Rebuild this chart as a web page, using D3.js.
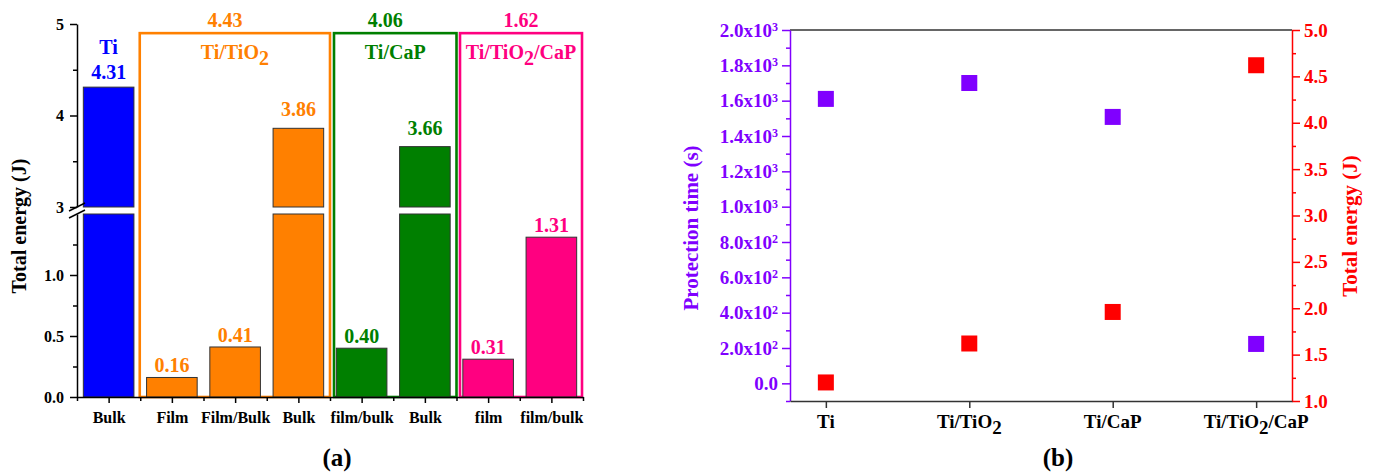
<!DOCTYPE html>
<html><head><meta charset="utf-8">
<script src="https://cdn.jsdelivr.net/npm/d3@7"></script>
<style>
body{margin:0;background:#fff}
text{font-family:"Liberation Serif","Times New Roman",serif;font-weight:bold}
</style>
</head><body>
<svg id="c" width="1373" height="472"></svg>
<script>
// ---------- DATA (a) ----------
const barLabels = ["Bulk","Film","Film/Bulk","Bulk","film/bulk","Bulk","film","film/bulk"];
const barValues = [4.31,0.16,0.41,3.86,0.40,3.66,0.31,1.31];
const barGroup  = [0,1,1,1,2,2,3,3];
const groupNames  = ["Ti","Ti/TiO2","Ti/CaP","Ti/TiO2/CaP"];
const groupTotals = [4.31,4.43,4.06,1.62];
const lowTicks  = [0.0,0.5,1.0];
const highTicks = [3,4,5];
// ---------- DATA (b) ----------
const samples = ["Ti","Ti/TiO2","Ti/CaP","Ti/TiO2/CaP"];
const protectionTime = [1610,1700,1508,223];
const totalEnergy    = [1.20,1.62,1.96,4.62];
const timeTicks   = [0,200,400,600,800,1000,1200,1400,1600,1800,2000];
const energyTicks = [1.0,1.5,2.0,2.5,3.0,3.5,4.0,4.5,5.0];

// ---------- STYLE ----------
const groupColors = ["#0000ff","#ff8000","#007f00","#ff0080"];
const purple = "#8000ff", red = "#ff0000", dark = "#333";

const svg = d3.select("#c");

function subText(sel, str){
  const parts = str.split("O2");
  parts.forEach((p,i)=>{
    const last = i===parts.length-1;
    if(i===0){
      sel.append("tspan").text(last ? p : p+"O");
    } else {
      sel.append("tspan").attr("dy","0.3em").text("2");
      sel.append("tspan").attr("dy","-0.3em").text(last ? p : p+"O");
    }
  });
}

// =============== CHART (a) ===============
const ga = svg.append("g");
const x = d3.scaleLinear().domain([0.5,8.5]).range([77,583]);
const yLow = d3.scaleLinear().domain([0,1.5]).range([397,214]);
const yHigh = d3.scaleLinear().domain([3,5]).range([207,24]);
const bw = (x(1)-x(0.5))*2*0.8;
const breakLow = 1.5, breakHigh = 3;

// group boxes
const boxes = [null,[x(1.5)-0.5,x(4.5)],[x(4.5)+4,x(6.5)],[x(6.5)+3.5,x(8.5)-1]];
const totalDx = [0,-10,-10,0];
boxes.forEach((b,g)=>{
  if(!b) return;
  ga.append("rect").attr("x",b[0]).attr("y",yHigh(4.9))
    .attr("width",b[1]-b[0]).attr("height",yLow(0)-yHigh(4.9))
    .attr("fill","none").attr("stroke",groupColors[g]).attr("stroke-width",2.6);
  const cx = (b[0]+b[1])/2;
  ga.append("text").attr("x",cx+totalDx[g]).attr("y",yHigh(4.9)-6)
    .attr("text-anchor","middle").attr("font-size",20).attr("fill",groupColors[g])
    .text(groupTotals[g].toFixed(2));
  const t = ga.append("text").attr("x",cx).attr("y",yHigh(4.9)+26)
    .attr("text-anchor","middle").attr("font-size",20).attr("fill",groupColors[g]);
  subText(t, groupNames[g]);
});
// Ti group label (no box)
ga.append("text").attr("x",x(1)).attr("y",yHigh(4.67)).attr("text-anchor","middle")
  .attr("font-size",20).attr("fill",groupColors[0]).text(groupNames[0]);
ga.append("text").attr("x",x(1)).attr("y",yHigh(4.4)).attr("text-anchor","middle")
  .attr("font-size",20).attr("fill",groupColors[0]).text(groupTotals[0].toFixed(2));

// bars
barValues.forEach((v,i)=>{
  const cx = x(i+1), col = groupColors[barGroup[i]];
  let topY;
  if(v<=breakLow){
    topY = yLow(v);
    ga.append("rect").attr("x",cx-bw/2).attr("y",topY).attr("width",bw)
      .attr("height",yLow(0)-topY).attr("fill",col).attr("stroke",dark).attr("stroke-width",1);
  } else {
    ga.append("rect").attr("x",cx-bw/2).attr("y",yLow(breakLow)).attr("width",bw)
      .attr("height",yLow(0)-yLow(breakLow)).attr("fill",col).attr("stroke",dark).attr("stroke-width",1);
    topY = yHigh(v);
    ga.append("rect").attr("x",cx-bw/2).attr("y",topY).attr("width",bw)
      .attr("height",yHigh(breakHigh)-topY).attr("fill",col).attr("stroke",dark).attr("stroke-width",1);
  }
  if(i>0){
    ga.append("text").attr("x",cx).attr("y",topY-(v>breakLow?12:5))
      .attr("text-anchor","middle").attr("font-size",20).attr("fill",col).text(v.toFixed(2));
  }
});

// y axes (split)
function styleAxis(g,color,fs){
  g.selectAll("path,line").attr("stroke",color).attr("stroke-width",1.5);
  g.selectAll("text").attr("fill",color).attr("font-size",fs||16)
    .attr("font-family","'Liberation Serif',serif").attr("font-weight","bold");
}
const axLow = ga.append("g").attr("transform","translate(77,0)")
  .call(d3.axisLeft(yLow).tickValues(lowTicks).tickSize(7).tickSizeOuter(0).tickPadding(6).tickFormat(d3.format(".1f")));
styleAxis(axLow,"#000",16);
ga.append("g").attr("transform","translate(77,0)")
  .call(d3.axisLeft(yLow).tickValues([0.25,0.75,1.25]).tickSize(4).tickSizeOuter(0).tickFormat(""))
  .call(g=>{g.select(".domain").remove(); styleAxis(g,"#000");});
const axHigh = ga.append("g").attr("transform","translate(77,0)")
  .call(d3.axisLeft(yHigh).tickValues(highTicks).tickSize(7).tickSizeOuter(0).tickPadding(6).tickFormat(d3.format("d")));
styleAxis(axHigh,"#000",16);
ga.append("g").attr("transform","translate(77,0)")
  .call(d3.axisLeft(yHigh).tickValues([3.5,4.5]).tickSize(4).tickSizeOuter(0).tickFormat(""))
  .call(g=>{g.select(".domain").remove(); styleAxis(g,"#000");});
// break marks
[yHigh(3)+3, yLow(1.5)+3].forEach(yy=>{
  ga.append("line").attr("x1",69).attr("y1",yy+1).attr("x2",85).attr("y2",yy-7)
    .attr("stroke","#000").attr("stroke-width",1.5);
});

// x axis
const axX = ga.append("g").attr("transform","translate(0,397)")
  .call(d3.axisBottom(x).tickValues(d3.range(1,9)).tickSize(6).tickSizeOuter(0).tickPadding(9)
    .tickFormat((d)=>barLabels[d-1]));
styleAxis(axX,"#000",16);
ga.append("g").attr("transform","translate(0,397)")
  .call(d3.axisBottom(x).tickValues(d3.range(0.5,9,1)).tickSize(4).tickSizeOuter(0).tickFormat(""))
  .call(g=>{g.select(".domain").remove(); styleAxis(g,"#000");});

ga.append("text").attr("transform","translate(26,226) rotate(-90)").attr("text-anchor","middle")
  .attr("font-size",20).attr("fill","#000").text("Total energy (J)");
ga.append("text").attr("x",337).attr("y",466).attr("text-anchor","middle")
  .attr("font-size",25).attr("fill","#000").text("(a)");

// =============== CHART (b) ===============
const gb = svg.append("g");
const xb = d3.scaleLinear().domain([0.75,4.25]).range([790,1292]);
const yT = d3.scaleLinear().domain([-100,2000]).range([401,30]);
const yE = d3.scaleLinear().domain([1,5]).range([401,30]);

// frame top
gb.append("line").attr("x1",790).attr("x2",1292).attr("y1",30).attr("y2",30)
  .attr("stroke",dark).attr("stroke-width",1.5);

// left axis (purple)
const axT = gb.append("g").attr("transform","translate(790,0)")
  .call(d3.axisLeft(yT).tickValues(timeTicks).tickSize(8).tickSizeOuter(0).tickFormat(""));
styleAxis(axT,purple);
gb.append("g").attr("transform","translate(790,0)")
  .call(d3.axisLeft(yT).tickValues(d3.range(-100,2000,200)).tickSize(4).tickSizeOuter(0).tickFormat(""))
  .call(g=>{g.select(".domain").remove(); styleAxis(g,purple);});
timeTicks.forEach(v=>{
  const t = gb.append("text").attr("x",778).attr("y",yT(v)+6.5).attr("text-anchor","end")
    .attr("font-size",19).attr("fill",purple);
  if(v===0){ t.text("0.0"); return; }
  const e = Math.floor(Math.log10(v)), m = v/Math.pow(10,e);
  t.append("tspan").text(m.toFixed(1)+"x10");
  t.append("tspan").attr("dy","-0.45em").attr("font-size",12).text(e);
});

// right axis (red)
const axE = gb.append("g").attr("transform","translate(1292,0)")
  .call(d3.axisRight(yE).tickValues(energyTicks).tickSize(8).tickSizeOuter(0).tickPadding(4).tickFormat(d3.format(".1f")));
styleAxis(axE,red,19);
gb.append("g").attr("transform","translate(1292,0)")
  .call(d3.axisRight(yE).tickValues(d3.range(1.25,5,0.5)).tickSize(4).tickSizeOuter(0).tickFormat(""))
  .call(g=>{g.select(".domain").remove(); styleAxis(g,red);});

// bottom axis
const axB = gb.append("g").attr("transform","translate(0,401)")
  .call(d3.axisBottom(xb).tickValues([1,2,3,4]).tickSize(7).tickSizeOuter(0).tickFormat(""));
styleAxis(axB,dark);
samples.forEach((s,i)=>{
  const t = gb.append("text").attr("x",xb(i+1)).attr("y",428).attr("text-anchor","middle")
    .attr("font-size",19).attr("fill","#000");
  subText(t,s);
});

// points
const sz = 16;
gb.selectAll("rect.pt").data(protectionTime).join("rect").attr("class","pt")
  .attr("x",(d,i)=>xb(i+1)-sz/2).attr("y",d=>yT(d)-sz/2).attr("width",sz).attr("height",sz)
  .attr("fill",purple);
gb.selectAll("rect.en").data(totalEnergy).join("rect").attr("class","en")
  .attr("x",(d,i)=>xb(i+1)-sz/2).attr("y",d=>yE(d)-sz/2).attr("width",sz).attr("height",sz)
  .attr("fill",red);

gb.append("text").attr("transform","translate(698,228) rotate(-90)").attr("text-anchor","middle")
  .attr("font-size",21).attr("fill",purple).text("Protection time (s)");
gb.append("text").attr("transform","translate(1357,226) rotate(-90)").attr("text-anchor","middle")
  .attr("font-size",21).attr("fill",red).text("Total energy (J)");
gb.append("text").attr("x",1058).attr("y",466).attr("text-anchor","middle")
  .attr("font-size",25).attr("fill","#000").text("(b)");
</script>
</body></html>
